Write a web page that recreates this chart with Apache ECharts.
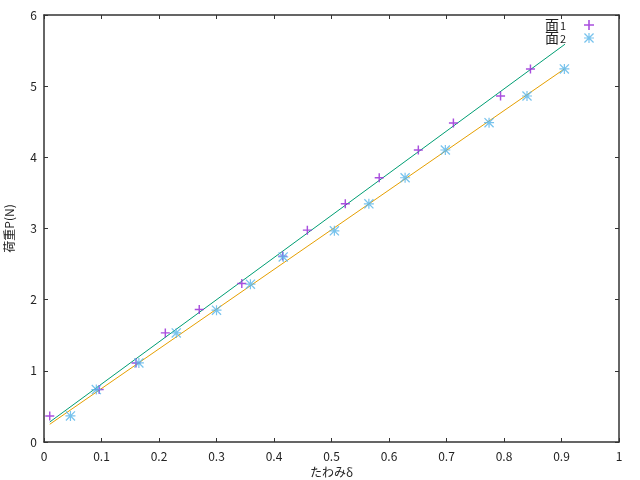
<!DOCTYPE html>
<html>
<head>
<meta charset="utf-8">
<script src="https://cdn.jsdelivr.net/npm/echarts@6/dist/echarts.min.js"></script>
<style>html,body{margin:0;padding:0;background:#fff}#c{width:640px;height:480px}</style>
</head>
<body>
<div id="c"></div>
<script>
// Data
var x1 = [0.010, 0.096, 0.160, 0.211, 0.270, 0.344, 0.415, 0.458, 0.524, 0.583, 0.651, 0.712, 0.794, 0.846];
var y1 = [0.366, 0.737, 1.111, 1.533, 1.862, 2.228, 2.612, 2.977, 3.347, 3.713, 4.103, 4.482, 4.862, 5.242];
var x2 = [0.046, 0.091, 0.165, 0.230, 0.300, 0.359, 0.416, 0.505, 0.565, 0.628, 0.698, 0.774, 0.840, 0.905];
var y2 = [0.366, 0.737, 1.111, 1.533, 1.852, 2.218, 2.600, 2.968, 3.347, 3.713, 4.103, 4.487, 4.862, 5.242];
// fitted lines (endpoints)
var fit1X = [0.010, 0.906];
var fit1Y = [0.281, 5.589];
var fit2X = [0.010, 0.905];
var fit2Y = [0.249, 5.242];
var seriesNames = ['面1', '面2'];
var xTitle = 'たわみδ';
var yTitle = '荷重P(N)';

function zip(a, b) { return a.map(function (v, i) { return [v, b[i]]; }); }

var plusPath = 'path://M4.2,0H5.8V4.2H10V5.8H5.8V10H4.2V5.8H0V4.2H4.2Z';
var starPath = 'path://M4.4,0H5.6V4.4H10V5.6H5.6V10H4.4V5.6H0V4.4H4.4Z M0,0.9L0.9,0L10,9.1L9.1,10Z M9.1,0L10,0.9L0.9,10L0,9.1Z';

var FONT = 'Noto Sans CJK JP';
var axisCol = '#333';

var chart = echarts.init(document.getElementById('c'), null, {renderer: 'canvas'});
chart.setOption({
  animation: false,
  backgroundColor: '#fff',
  textStyle: {fontFamily: FONT},
  grid: {left: 44, right: 21, top: 15, bottom: 38, containLabel: false, outerBoundsMode: 'none'},
  legend: {
    data: seriesNames,
    orient: 'vertical',
    right: 46,
    top: 13,
    padding: 0,
    itemGap: -6,
    itemWidth: 10,
    itemHeight: 10,
    align: 'right',
    textStyle: {
      fontFamily: FONT,
      color: '#222',
      rich: {
        m: {fontSize: 14, fontFamily: FONT, color: '#222', lineHeight: 12},
        s: {fontSize: 11, fontFamily: FONT, color: '#222', lineHeight: 12, verticalAlign: 'bottom', padding: [7, 13, 0, 1]}
      }
    },
    formatter: function (name) { return '{m|' + name.charAt(0) + '}{s|' + name.slice(1) + '}'; }
  },
  xAxis: [{
    type: 'value', min: 0, max: 1, interval: 0.1, position: 'bottom',
    name: xTitle, nameLocation: 'middle', nameGap: 23,
    nameTextStyle: {fontSize: 12, color: '#222', fontFamily: FONT},
    axisLine: {show: true, onZero: false, lineStyle: {color: axisCol, width: 1.5}},
    axisTick: {show: true, inside: true, length: 4, lineStyle: {color: axisCol, width: 1}},
    axisLabel: {fontSize: 12, color: '#222', margin: 8, fontFamily: FONT},
    splitLine: {show: false}
  }, {
    type: 'value', min: 0, max: 1, interval: 0.1, position: 'top',
    axisLine: {show: true, onZero: false, lineStyle: {color: axisCol, width: 1.5}},
    axisTick: {show: true, inside: true, length: 4, lineStyle: {color: axisCol, width: 1}},
    axisLabel: {show: false},
    splitLine: {show: false}
  }],
  yAxis: [{
    type: 'value', min: 0, max: 6, interval: 1, position: 'left',
    name: yTitle, nameLocation: 'middle', nameGap: 29, nameRotate: 90,
    nameTextStyle: {fontSize: 12, color: '#222', fontFamily: FONT},
    axisLine: {show: true, onZero: false, lineStyle: {color: axisCol, width: 1.5}},
    axisTick: {show: true, inside: true, length: 4, lineStyle: {color: axisCol, width: 1}},
    axisLabel: {fontSize: 12, color: '#222', margin: 7, fontFamily: FONT},
    splitLine: {show: false}
  }, {
    type: 'value', min: 0, max: 6, interval: 1, position: 'right',
    axisLine: {show: true, onZero: false, lineStyle: {color: axisCol, width: 1.5}},
    axisTick: {show: true, inside: true, length: 4, lineStyle: {color: axisCol, width: 1}},
    axisLabel: {show: false},
    splitLine: {show: false}
  }],
  series: [{
    name: 'fit1', type: 'line', data: zip(fit1X, fit1Y), symbol: 'none',
    lineStyle: {color: '#009e73', width: 1}, silent: true, z: 2
  }, {
    name: 'fit2', type: 'line', data: zip(fit2X, fit2Y), symbol: 'none',
    lineStyle: {color: '#e69f00', width: 1}, silent: true, z: 2
  }, {
    name: seriesNames[0], type: 'scatter', data: zip(x1, y1),
    symbol: plusPath, symbolSize: 9,
    itemStyle: {color: '#9a30d8', opacity: 0.85}, z: 3
  }, {
    name: seriesNames[1], type: 'scatter', data: zip(x2, y2),
    symbol: starPath, symbolSize: 10,
    itemStyle: {color: '#56b4e9', opacity: 0.8}, z: 3
  }]
});
</script>
</body>
</html>
